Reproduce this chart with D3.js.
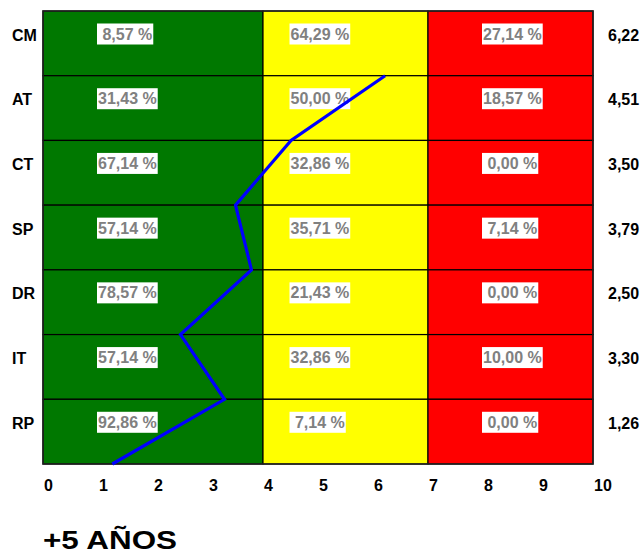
<!DOCTYPE html>
<html>
<head>
<meta charset="utf-8">
<script src="https://cdn.jsdelivr.net/npm/d3@7"></script>
<style>
  html, body { margin: 0; padding: 0; background: #fff; }
  svg { display: block; }
  text { font-family: "Liberation Sans", Arial, sans-serif; }
</style>
</head>
<body>
<script>
const categories = ["CM", "AT", "CT", "SP", "DR", "IT", "RP"];
const pctGreen  = [8.57, 31.43, 67.14, 57.14, 78.57, 57.14, 92.86];
const pctYellow = [64.29, 50.00, 32.86, 35.71, 21.43, 32.86, 7.14];
const pctRed    = [27.14, 18.57, 0.00, 7.14, 0.00, 10.00, 0.00];
const scores    = [6.22, 4.51, 3.50, 3.79, 2.50, 3.30, 1.26];
const zoneBreaks = [0, 4, 7, 10];
const zoneColors = ["#007800", "#ffff00", "#ff0000"];
const tickValues = [0, 1, 2, 3, 4, 5, 6, 7, 8, 9, 10];
const title = "+5 AÑOS";

const W = 644, H = 555;
const svg = d3.select("body").append("svg").attr("width", W).attr("height", H);

const x = d3.scaleLinear().domain([0, 10]).range([43, 593]);
const y = d3.scaleBand().domain(categories).range([11, 464]).paddingInner(0).paddingOuter(0);
const rowH = y.bandwidth();

const fmt = v => d3.format(".2f")(v).replace(".", ",");
const fmtPct = v => (v < 10 ? " " : "") + fmt(v) + " %";

// cells
const cells = [];
categories.forEach(c => {
  for (let z = 0; z < 3; z++) cells.push({ c, z });
});
svg.append("g").selectAll("rect").data(cells).join("rect")
  .attr("x", d => x(zoneBreaks[d.z]))
  .attr("y", d => y(d.c))
  .attr("width", d => x(zoneBreaks[d.z + 1]) - x(zoneBreaks[d.z]))
  .attr("height", rowH)
  .attr("fill", d => zoneColors[d.z])
  .attr("stroke", "#000")
  .attr("stroke-width", 1.2);

// outer border
svg.append("rect")
  .attr("x", x(0)).attr("y", y.range()[0])
  .attr("width", x(10) - x(0)).attr("height", y.range()[1] - y.range()[0])
  .attr("fill", "none").attr("stroke", "#222").attr("stroke-width", 1.5);

// percent labels
const labelX = [1, 4.5, 8];
const pctSeries = [pctGreen, pctYellow, pctRed];
const lblG = svg.append("g");
pctSeries.forEach((series, z) => {
  series.forEach((v, i) => {
    const g = lblG.append("g");
    const cy = y(categories[i]) + 23;
    const t = g.append("text")
      .attr("x", x(labelX[z]))
      .attr("y", cy)
      .attr("dominant-baseline", "central")
      .style("white-space", "pre")
      .attr("xml:space", "preserve")
      .attr("font-size", 16)
      .attr("font-weight", "bold")
      .attr("fill", "#808080")
      .text(fmtPct(v));
    const bb = t.node().getBBox();
    g.insert("rect", "text")
      .attr("x", bb.x - 1)
      .attr("y", cy - 10.5)
      .attr("width", bb.width + 2)
      .attr("height", 21)
      .attr("fill", "#fff");
  });
});

// row labels
svg.append("g").selectAll("text").data(categories).join("text")
  .attr("x", 12)
  .attr("y", d => y(d) + 24)
  .attr("dominant-baseline", "central")
  .attr("font-size", 16)
  .attr("font-weight", "bold")
  .attr("fill", "#000")
  .text(d => d);

// right score labels
svg.append("g").selectAll("text").data(scores).join("text")
  .attr("x", 608)
  .attr("y", (d, i) => y(categories[i]) + 24)
  .attr("dominant-baseline", "central")
  .attr("font-size", 16)
  .attr("font-weight", "bold")
  .attr("fill", "#000")
  .text(d => fmt(d));

// x tick labels
svg.append("g").selectAll("text").data(tickValues).join("text")
  .attr("x", d => x(d) + 1)
  .attr("y", 491)
  .attr("font-size", 16)
  .attr("font-weight", "bold")
  .attr("fill", "#000")
  .text(d => d);

// blue line: vertex at bottom edge of each row
const line = d3.line()
  .x(d => x(d.v))
  .y(d => y(d.c) + rowH);
svg.append("path")
  .datum(scores.map((v, i) => ({ v, c: categories[i] })))
  .attr("d", line)
  .attr("fill", "none")
  .attr("stroke", "#0000ff")
  .attr("stroke-width", 3.2)
  .attr("stroke-linejoin", "miter");

// title
svg.append("text")
  .attr("x", 43)
  .attr("y", 549)
  .attr("font-size", 26)
  .attr("font-weight", "bold")
  .attr("fill", "#000")
  .attr("textLength", 134)
  .attr("lengthAdjust", "spacingAndGlyphs")
  .text(title);
</script>
</body>
</html>
